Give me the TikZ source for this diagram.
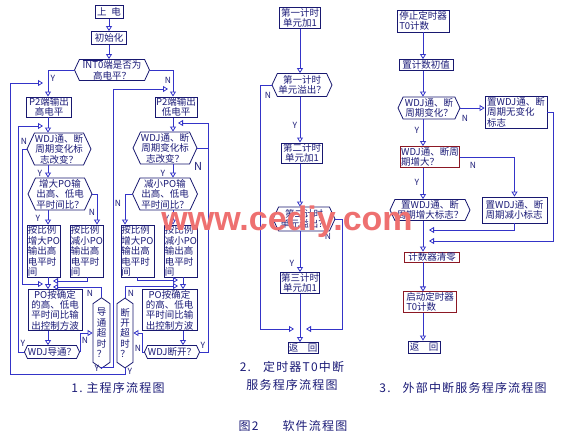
\documentclass[tikz,border=0pt]{standalone}
\usepackage{fontspec}
\setmainfont{Noto Sans CJK SC}
\newfontfamily\titlefont[LetterSpace=10]{Noto Sans CJK SC}
\newfontfamily\markfont{Liberation Sans}
\usetikzlibrary{arrows.meta,shapes.symbols}
\definecolor{linecol}{RGB}{52,52,200}
\definecolor{textcol}{RGB}{28,28,120}
\definecolor{boxcol}{RGB}{24,24,112}
\definecolor{redcol}{RGB}{140,24,36}
\definecolor{markcol}{RGB}{238,112,112}

\begin{document}
\begin{tikzpicture}[x=1pt,y=-1pt,
	every node/.style={text=textcol, font=\fontsize{9.5}{10.4}\selectfont, inner sep=0.5pt},
	flowbox/.style={draw=boxcol, line width=0.8pt, rectangle, align=center},
	leftbox/.style={flowbox, align=left},
	redbox/.style={flowbox, draw=redcol},
	hexbox/.style={draw=boxcol, line width=0.8pt, shape=signal, signal to=west and east, signal pointer angle=130, align=center},
	vhexbox/.style={draw=boxcol, line width=0.8pt, shape=signal, signal to=north and south, signal pointer angle=110, align=center},
	flow/.style={draw=linecol, line width=0.8pt},
	arr/.style={flow, -{Triangle[open,length=5pt,width=6pt]}},
	yn/.style={font=\fontsize{8.5}{9}\selectfont},
	captext/.style={font=\titlefont\fontsize{12}{18}\selectfont, align=center}]
		\fill [white] (0,0) rectangle (575,432);
		\useasboundingbox (0,0) rectangle (575,432);
		\coordinate (mL) at (48,0);
		\coordinate (mR) at (173,0);
		\coordinate (mRb) at (183,0);
		\coordinate (m2) at (300,0);
		\coordinate (m3) at (423,0);

		\node (pwr) at (109,12) [flowbox, minimum width=28, minimum height=13] {上\enspace 电};
		\node (init) at (109,38) [flowbox, minimum width=35, minimum height=13] {初始化};
		\node (q1) at (112,70) [hexbox, minimum width=75, minimum height=21] {$\overline{\hbox{INT0}}$端是否为\\高电平？};
		\node (hi) at (49,107) [flowbox, minimum width=45, minimum height=20] {P2端输出\\高电平};
		\node (lo) at (176,107) [flowbox, minimum width=42, minimum height=20] {P2端输出\\低电平};
		\node (chL) at (59,149) [hexbox, minimum width=62, minimum height=32] {WDJ通、断\\周期变化标\\志改变？};
		\node (chR) at (165,148) [hexbox, minimum width=60, minimum height=32] {WDJ通、断\\周期变化标\\志改变？};
		\node (incL) at (60,194) [hexbox, minimum width=64, minimum height=32] {增大PO输\\出高、低电\\平时间比？};
		\node (decR) at (165,194) [hexbox, minimum width=65, minimum height=32] {减小PO输\\出高、低电\\平时间比？};
		\node (bL1) at (44,251) [leftbox, minimum width=32, minimum height=52] {按比例\\增大PO\\输出高\\电平时\\间};
		\node (bL2) at (87,251) [leftbox, minimum width=30, minimum height=52] {按比例\\减小PO\\输出高\\电平时\\间};
		\node (bR1) at (137.5,251) [leftbox, minimum width=31, minimum height=52] {按比例\\增大PO\\输出高\\电平时\\间};
		\node (bR2) at (181,251) [leftbox, minimum width=32, minimum height=52] {按比例\\减小PO\\输出高\\电平时\\间};
		\node (poL) at (55,310) [flowbox, minimum width=54, minimum height=40] {PO按确定\\的高、低电\\平时间比输\\出控制方波};
		\node (poR) at (169.5,310) [flowbox, minimum width=55, minimum height=40] {PO按确定\\的高、低电\\平时间比输\\出控制方波};
		\node (okL) at (52,352) [hexbox, minimum width=51, minimum height=13] {WDJ导通？};
		\node (okR) at (172,352) [hexbox, minimum width=51, minimum height=13] {WDJ断开？};
		\node (toL) at (101.5,333) [vhexbox, minimum width=17, minimum height=66] {导\\通\\超\\时\\？};
		\node (toR) at (125,333) [vhexbox, minimum width=16, minimum height=66] {断\\开\\超\\时\\？};

		\coordinate (jL1) at (43,83);
		\coordinate (jR1) at (168,89);
		\coordinate (jR2) at (178,123);
		\coordinate (jL2) at (43,126);
		\coordinate (jL3) at (43,284);
		\coordinate (jL4) at (53,281);
		\coordinate (jL5) at (53,287);
		\coordinate (jR3) at (178,280);
		\coordinate (jR4) at (178,286);
		\coordinate (cL3) at (22,284);
		\coordinate (cL2) at (18,126);
		\coordinate (cL1a) at (125,374);
		\coordinate (cL1b) at (10,374);
		\coordinate (cL1c) at (10,83);
		\coordinate (cR1a) at (113,367);
		\coordinate (cR1b) at (113,89);
		\coordinate (cR2a) at (208,352);
		\coordinate (cR2b) at (208,123);
		\coordinate (cR5) at (142,352);
		\coordinate (nL2) at (97,0);
		\coordinate (nR1) at (125,0);

		\draw [arr] (pwr) -- (init);
		\draw [arr] (init) -- (init |- q1.north);
		\draw [arr] (q1.west) -| (mL |- hi.north);
		\draw [arr] (q1.east) -| (mR |- lo.north);
		\draw [arr] (mL |- hi.south) -- (mL |- chL.north);
		\draw [arr] (mL |- chL.south) -- (mL |- incL.north);
		\draw [arr] (mL |- incL.south) -- (mL |- bL1.north);
		\draw [arr] (incL.east) -| (nL2 |- bL2.north);
		\draw [arr] (chL.west) -| (cL3) -- (jL3);
		\draw [arr] (bL2.south) |- (jL4);
		\draw [arr] (mL |- bL1.south) -- (mL |- poL.north);
		\draw [arr] (mL |- poL.south) -- (mL |- okL.north);
		\draw [arr] (okL.west) -| (cL2) -- (jL2);
		\draw [arr] (okL.east) |- (toL.west);
		\draw [arr] (toL.north) |- (jL5);
		\draw [arr] (toL.south) |- (cR1a) -- (cR1b) -- (jR1);
		\draw [arr] (toR.south) -- (cL1a) -- (cL1b) -- (cL1c) -- (jL1);
		\draw [arr] (mR |- lo.south) -- (mR |- chR.north);
		\draw [flow] (chR.east) -- (chR.east -| cR2a);
		\draw [arr] (okR.east) -- (cR2a) -- (cR2b) -- (jR2);
		\draw [arr] (mR |- chR.south) -- (mR |- decR.north);
		\draw [arr] (mR |- decR.south) -- (mR |- bR2.north);
		\draw [arr] (decR.west) -| (nR1 |- bR1.north);
		\draw [arr] (bR1.south) |- (jR3);
		\draw [arr] (mRb |- bR2.south) -- (mRb |- poR.north);
		\draw [arr] (toR.north) |- (jR4);
		\draw [arr] (mRb |- poR.south) -- (mRb |- okR.north);
		\draw [arr] (okR.west) -- (cR5) |- (toR.east);

		\node (yQ1) at (53,78) [yn] {Y};
		\node (nQ1) at (168,80) [yn] {N};
		\node (nChL) at (24,141) [yn] {N};
		\node (yChL) at (40,173) [yn] {Y};
		\node (yInc) at (38,218) [yn] {Y};
		\node (nInc) at (92,212) [yn] {N};
		\node (yOkL) at (23,343) [yn] {Y};
		\node (nOkL) at (85,340) [yn] {N};
		\node (nToL) at (90,293) [yn] {N};
		\node (yToL) at (97,368) [yn] {Y};
		\node (yChR) at (163,173) [yn] {Y};
		\node (nChR) at (198,166) [yn, font=\fontsize{11}{12}\selectfont] {N};
		\node (nDec) at (118,203) [yn] {N};
		\node (yDec) at (167,218) [yn] {Y};
		\node (nToR) at (131,293) [yn] {N};
		\node (yToR) at (130,371) [yn] {Y};
		\node (nOkR) at (138,348) [yn] {N};
		\node (yOkR) at (203,345) [yn] {Y};
		\node (cap1) at (118,388) [captext] {1.\ 主程序流程图};

		\node (t1) at (300,18) [flowbox, minimum width=41, minimum height=21] {第一计时\\单元加1};
		\node (q21) at (302,85) [hexbox, minimum width=60, minimum height=23] {第一计时\\单元溢出？};
		\node (t2) at (302,153) [flowbox, minimum width=41, minimum height=20] {第二计时\\单元加1};
		\node (q22) at (304,219) [hexbox, minimum width=62, minimum height=24] {第二计时\\单元溢出？};
		\node (t3) at (300,283) [flowbox, minimum width=36, minimum height=21] {第三计时\\单元加1};
		\node (ret2) at (303,348) [flowbox, minimum width=30, minimum height=11] {返\quad 回};
		\coordinate (c2a) at (260,329);
		\coordinate (j2a) at (294,329);
		\coordinate (c2b) at (342,329);
		\coordinate (j2b) at (306,329);
		\draw [arr] (m2 |- t1.south) -- (m2 |- q21.north);
		\draw [arr] (m2 |- q21.south) -- (m2 |- t2.north);
		\draw [arr] (m2 |- t2.south) -- (m2 |- q22.north);
		\draw [arr] (m2 |- q22.south) -- (m2 |- t3.north);
		\draw [arr] (m2 |- t3.south) -- (m2 |- ret2.north);
		\draw [arr] (q21.west) -| (c2a) -- (j2a);
		\draw [arr] (q22.east) -| (c2b) -- (j2b);
		\node (nQ21) at (268,95) [yn] {N};
		\node (yQ21) at (295,125) [yn] {Y};
		\node (nQ22) at (328,236) [yn] {N};
		\node (yQ22) at (292,263) [yn] {Y};
		\node (cap2) at (292,376) [captext] {2.\quad 定时器T0中断\\服务程序流程图};

		\node (s1) at (423,21) [leftbox, minimum width=52, minimum height=22] {停止定时器\\T0计数};
		\node (s2) at (426,65) [flowbox, minimum width=54, minimum height=11] {置计数初值};
		\node (q31) at (429,108) [hexbox, minimum width=62, minimum height=22] {WDJ通、断\\周期变化？};
		\node (s3) at (516,112) [leftbox, minimum width=62, minimum height=32] {置WDJ通、断\\周期无变化\\标志};
		\node (q32) at (430,157) [leftbox, draw=redcol, minimum width=59, minimum height=21] {WDJ通、断周\\期增大？};
		\node (s4) at (514.5,210) [leftbox, minimum width=65, minimum height=26] {置WDJ通、断\\周期减小标志};
		\node (q33) at (430,210) [hexbox, minimum width=80, minimum height=21] {置WDJ通、断\\周期增大标志？};
		\node (s5) at (432,257) [redbox, minimum width=55, minimum height=10] {计数器清零};
		\node (s6) at (430,302) [leftbox, draw=redcol, minimum width=53, minimum height=20] {启动定时器\\T0计数};
		\node (ret3) at (424,347) [flowbox, minimum width=32, minimum height=12] {返\quad 回};
		\coordinate (j3a) at (429,230);
		\coordinate (j3b) at (429,241);
		\coordinate (c3) at (553,241);
		\draw [arr] (m3 |- s1.south) -- (m3 |- s2.north);
		\draw [arr] (m3 |- s2.south) -- (m3 |- q31.north);
		\draw [arr] (q31.east) -- (s3.west |- q31.east);
		\draw [arr] (m3 |- q31.south) -- (m3 |- q32.north);
		\draw [arr] (q32.east) -| (s4.north);
		\draw [arr] (m3 |- q32.south) -- (m3 |- q33.north);
		\draw [arr] (m3 |- q33.south) -- (m3 |- s5.north);
		\draw [arr] (s4.south) |- (j3a);
		\draw [arr] (s3.east) -| (c3) -- (j3b);
		\draw [arr] (m3 |- s5.south) -- (m3 |- s6.north);
		\draw [arr] (m3 |- s6.south) -- (m3 |- ret3.north);
		\node (nQ31) at (465,118) [yn] {N};
		\node (yQ31) at (417,130) [yn] {Y};
		\node (nQ32) at (473,165) [yn] {N};
		\node (yQ32) at (417,182) [yn] {Y};
		\node (cap3) at (463,388) [captext] {3.\quad 外部中断服务程序流程图};

		\node (fig) at (293,426) [captext] {图2\qquad 软件流程图};
		\node (mark) at (287,230) [anchor=base, text=markcol, font=\markfont\bfseries\fontsize{34}{34}\selectfont] {www.cediy.com};
	\end{tikzpicture}
\end{document}
